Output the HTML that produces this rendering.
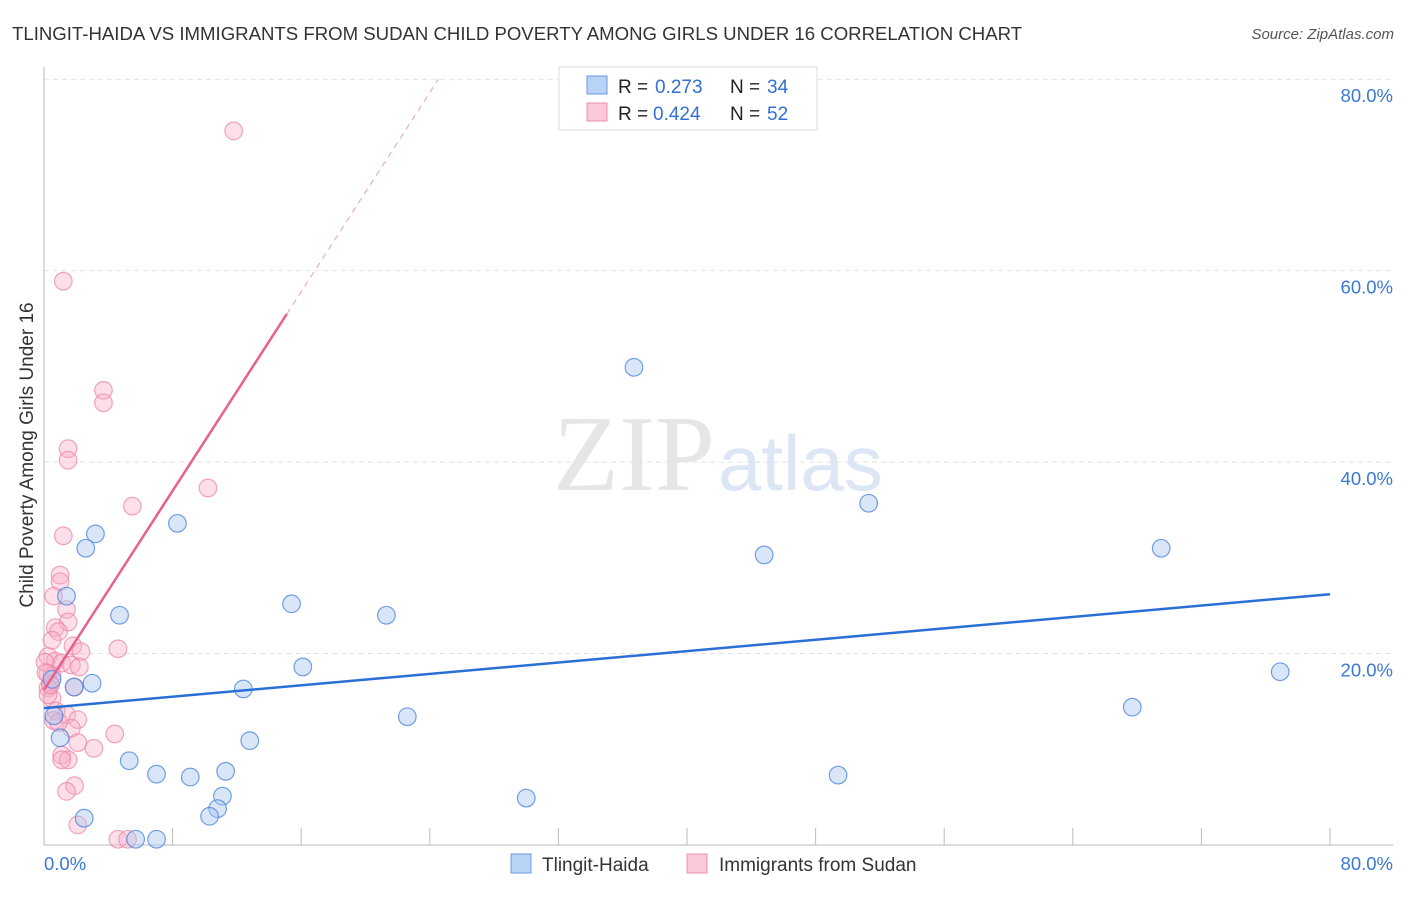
<!DOCTYPE html>
<html><head><meta charset="utf-8"><style>
body{margin:0;background:#fff;font-family:"Liberation Sans",sans-serif}
</style></head><body>
<svg width="1406" height="892" xmlns="http://www.w3.org/2000/svg" font-family="Liberation Sans, sans-serif">
<text x="12" y="40" font-size="18.6" fill="#333">TLINGIT-HAIDA VS IMMIGRANTS FROM SUDAN CHILD POVERTY AMONG GIRLS UNDER 16 CORRELATION CHART</text>
<text x="1394" y="39" font-size="15" fill="#555" font-style="italic" text-anchor="end">Source: ZipAtlas.com</text>
<text x="715" y="490" font-size="108" fill="#e6e6e6" text-anchor="end" font-family="Liberation Serif, serif">ZIP</text>
<text x="718" y="490" font-size="78" fill="#dce6f5">atlas</text>
<g id="grid"></g>
<g id="axes"></g>
<g id="pts"></g>
<g id="lines"></g>
<text x="33" y="455" font-size="19" fill="#333" text-anchor="middle" transform="rotate(-90 33 455)">Child Poverty Among Girls Under 16</text>
<g>
<rect x="559" y="67" width="258" height="63" fill="#fff" stroke="#ddd"/>
<rect x="587" y="76" width="20" height="18" fill="#b8d3f5" stroke="#6a9be0"/>
<rect x="587" y="103" width="20" height="18" fill="#fac8d8" stroke="#ee8fb0"/>
<text x="618" y="93" font-size="19" fill="#222">R =</text><text x="655" y="93" font-size="19" fill="#2f6fd6">0.273</text>
<text x="730" y="93" font-size="19" fill="#222">N =</text><text x="767" y="93" font-size="19" fill="#2f6fd6">34</text>
<text x="618" y="120" font-size="19" fill="#222">R =</text><text x="653" y="120" font-size="19" fill="#2f6fd6">0.424</text>
<text x="730" y="120" font-size="19" fill="#222">N =</text><text x="767" y="120" font-size="19" fill="#2f6fd6">52</text>
</g>
<g>
<rect x="511" y="854" width="20" height="19" fill="#b8d3f5" stroke="#6a9be0"/>
<text x="542" y="871" font-size="19" fill="#333">Tlingit-Haida</text>
<rect x="687" y="854" width="20" height="19" fill="#fac8d8" stroke="#ee8fb0"/>
<text x="719" y="871" font-size="19" fill="#333">Immigrants from Sudan</text>
</g>
</svg>
<script>
const yTicks=[20,40,60,80];
const xTickLabels=["0.0%","80.0%"];
const blueX=[36.7,51.3,69.5,44.8,76.9,67.7,49.4,3.2,2.6,8.3,1.4,4.7,15.4,21.3,16.1,2.99,1.87,12.4,22.6,0.62,1.0,12.8,5.3,7.0,9.1,11.3,11.1,10.8,10.3,30.0,2.5,5.7,7.0,0.5];
const blueY=[49.9,35.7,31.0,30.3,18.1,14.4,7.3,32.5,31.0,33.6,26.0,24.0,25.2,24.0,18.6,16.9,16.5,16.3,13.4,13.5,11.2,10.9,8.8,7.4,7.1,7.7,5.1,3.8,3.0,4.9,2.8,0.6,0.6,17.3];
const pinkX=[11.8,1.2,3.7,3.7,1.5,1.5,10.2,5.5,1.2,1.0,1.0,0.6,1.4,1.5,0.7,0.9,0.5,1.8,2.3,4.6,0.25,0.7,1.1,1.7,2.2,0.25,0.5,0.4,1.9,0.25,0.5,0.75,1.4,2.1,0.6,1.7,2.1,3.1,4.4,1.1,1.5,1.1,1.9,1.4,2.1,4.6,5.2,0.25,0.4,0.06,0.12,0.9];
const pinkY=[74.6,58.9,47.5,46.2,41.4,40.2,37.3,35.4,32.3,28.2,27.5,26.0,24.6,23.3,22.7,22.3,21.4,20.8,20.2,20.5,19.7,19.2,19.0,18.8,18.6,17.9,17.7,16.9,16.5,16.4,15.3,14.0,13.6,13.1,13.0,12.2,10.7,10.1,11.6,9.4,8.9,8.9,6.2,5.6,2.1,0.6,0.6,15.7,16.7,19.1,18.0,12.8];
const blueFit=[14.3,26.2];
const pinkFit=[16.2,2.6];
const X=v=>44+v*16.075, Y=v=>845-v*9.5725;
const NS="http://www.w3.org/2000/svg";
function mk(t,a,p){const e=document.createElementNS(NS,t);for(const k in a)e.setAttribute(k,a[k]);p.appendChild(e);return e;}
const grid=document.getElementById('grid'),axes=document.getElementById('axes'),pts=document.getElementById('pts'),lines=document.getElementById('lines');
yTicks.forEach(t=>{
 const l=mk('line',{x1:44,x2:1393,y1:Y(t),y2:Y(t),stroke:'#e2e2e2','stroke-dasharray':'5,4'},grid);
 
 
 const tx=mk('text',{x:1393,y:Y(t)+23,'font-size':18.5,fill:'#3a78d6','text-anchor':'end'},grid);
 tx.textContent=t.toFixed(1)+'%';
 
 
});
mk('line',{x1:44,x2:44,y1:67,y2:845,stroke:'#bbb'},axes);
mk('line',{x1:44,x2:1393,y1:845,y2:845,stroke:'#bbb'},axes);
for(let i=0;i<=10;i++){const t=mk('line',{x1:X(i*8),x2:X(i*8),y1:828,y2:845,stroke:'#bbb'},axes);
 
 }
const xl0=mk('text',{x:44,y:870,'font-size':18.5,fill:'#3a78d6'},axes);xl0.textContent=xTickLabels[0];


const xl1=mk('text',{x:1393,y:870,'font-size':18.5,fill:'#3a78d6','text-anchor':'end'},axes);xl1.textContent=xTickLabels[1];


pinkX.forEach((x,i)=>{const c=mk('circle',{cx:X(x),cy:Y(pinkY[i]),r:8.8,fill:'rgba(248,176,200,0.4)',stroke:'rgba(236,128,165,0.7)','stroke-width':1.2},pts);
 
 });
blueX.forEach((x,i)=>{const c=mk('circle',{cx:X(x),cy:Y(blueY[i]),r:8.8,fill:'rgba(170,200,240,0.45)',stroke:'rgba(70,130,220,0.75)','stroke-width':1.2},pts);
 
 });
const bl=mk('line',{x1:X(0),y1:Y(blueFit[0]),x2:X(80),y2:Y(blueFit[1]),stroke:'#2a6fd6','stroke-width':2.5},lines);


const xs=15.1,xe=(80-pinkFit[0])/pinkFit[1];
const pl=mk('line',{x1:X(0),y1:Y(pinkFit[0]),x2:X(xs),y2:Y(pinkFit[0]+pinkFit[1]*xs),stroke:'#e8608e','stroke-width':2.5},lines);


const pd=mk('line',{x1:X(xs),y1:Y(pinkFit[0]+pinkFit[1]*xs),x2:X(xe),y2:Y(pinkFit[0]+pinkFit[1]*xe),stroke:'#eeaac2','stroke-width':1.2,'stroke-dasharray':'6,5'},lines);


</script>
</body></html>
